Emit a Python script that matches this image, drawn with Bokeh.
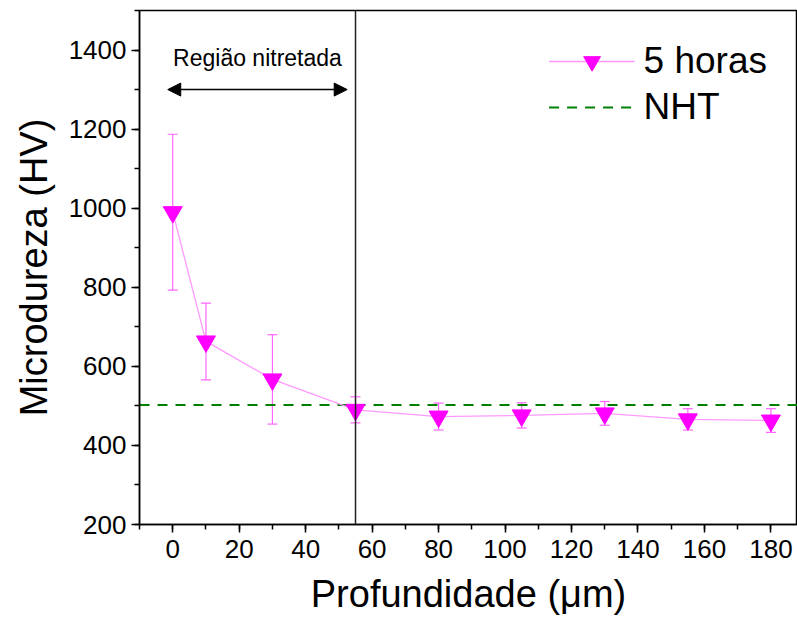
from bokeh.plotting import figure
from bokeh.models import (ColumnDataSource, Whisker, TeeHead, Span, Arrow, NormalHead,
                          Range1d, SingleIntervalTicker, Legend, LegendItem)
from bokeh.core.properties import value
from bokeh.embed import file_html
from bokeh.resources import INLINE

# Data
depth = [0, 10, 30, 55, 80, 105, 130, 155, 180]
hardness = [990, 663, 567, 490, 473, 476, 481, 466, 463]
error = [197, 97, 113, 33, 34, 32, 30, 27, 30]
nht_value = 502
series_label = "5 horas"
nht_label = "NHT"
region_label = "Região nitretada"
region_start = -1.5
region_end = 52.5
region_y = 1300
boundary_x = 55

FONT = "Liberation Sans"

lower = [h - e for h, e in zip(hardness, error)]
upper = [h + e for h, e in zip(hardness, error)]
src = ColumnDataSource(data=dict(x=depth, y=hardness, lower=lower, upper=upper))

p = figure(width=797, height=619, output_backend="svg", toolbar_location=None,
           x_range=Range1d(-10, 188), y_range=Range1d(200, 1500),
           min_border_left=139, min_border_right=0, min_border_top=10, min_border_bottom=95)
p.background_fill_color = "white"
p.border_fill_color = "white"
p.outline_line_color = "black"
p.outline_line_width = 1.5
p.xgrid.visible = False
p.ygrid.visible = False

p.xaxis.ticker = SingleIntervalTicker(interval=20, num_minor_ticks=2)
p.yaxis.ticker = SingleIntervalTicker(interval=200, num_minor_ticks=2)
for ax in (p.xaxis, p.yaxis):
    ax.axis_line_width = 1.5
    ax.axis_line_color = "black"
    ax.major_tick_line_width = 1.5
    ax.minor_tick_line_width = 1.5
    ax.major_tick_line_color = "black"
    ax.minor_tick_line_color = "black"
    ax.major_tick_out = 8
    ax.major_tick_in = 0
    ax.minor_tick_out = 5
    ax.minor_tick_in = 0
    ax.major_label_text_font = FONT
    ax.major_label_text_font_size = "26px"
    ax.major_label_text_color = "black"
    ax.axis_label_text_font = FONT
    ax.axis_label_text_font_size = "38px"
    ax.axis_label_text_font_style = "normal"
    ax.axis_label_text_color = "black"
p.xaxis.axis_label = "Profundidade (μm)"
p.yaxis.axis_label = "Microdureza (HV)"
p.xaxis.major_label_standoff = 7
p.yaxis.major_label_standoff = 5
p.xaxis.axis_label_standoff = 12
p.yaxis.axis_label_standoff = 11

# NHT reference line
nht = p.line(x=[-10, 188], y=[nht_value, nht_value], line_color="#008000",
             line_width=2, line_dash="10 8")

# boundary line
p.add_layout(Span(location=boundary_x, dimension="height", line_color="#222222", line_width=1.5))

# error bars
w = Whisker(source=src, base="x", lower="lower", upper="upper",
            line_color="#ff66ff", line_width=1.2,
            upper_head=TeeHead(size=10, line_color="#ff66ff", line_width=1.2),
            lower_head=TeeHead(size=10, line_color="#ff66ff", line_width=1.2))
p.add_layout(w)

ln = p.line("x", "y", source=src, line_color="#ff99ff", line_width=1.3)
mk = p.scatter("x", "y", source=src, marker="inverted_triangle", size=19,
               fill_color="#ff00ff", line_color="#ff00ff")

# region annotation
p.add_layout(Arrow(x_start=region_start, y_start=region_y, x_end=region_end, y_end=region_y,
                   line_color="black", line_width=1.5,
                   start=NormalHead(size=13, fill_color="black", line_color="black"),
                   end=NormalHead(size=13, fill_color="black", line_color="black")))
p.text(x=[(region_start + region_end) / 2], y=[1380], text=[region_label],
       text_font=value(FONT), text_font_size="23px", text_align="center",
       text_baseline="middle", text_color="black")

legend = Legend(items=[LegendItem(label=series_label, renderers=[ln, mk]),
                       LegendItem(label=nht_label, renderers=[nht])],
                location="top_right", background_fill_alpha=0, border_line_alpha=0,
                label_text_font=FONT, label_text_font_size="37px", label_text_color="black",
                glyph_width=86, glyph_height=42, label_standoff=9,
                spacing=4, margin=24, padding=6)
p.add_layout(legend)

open("out.html", "w").write(file_html(p, INLINE))
